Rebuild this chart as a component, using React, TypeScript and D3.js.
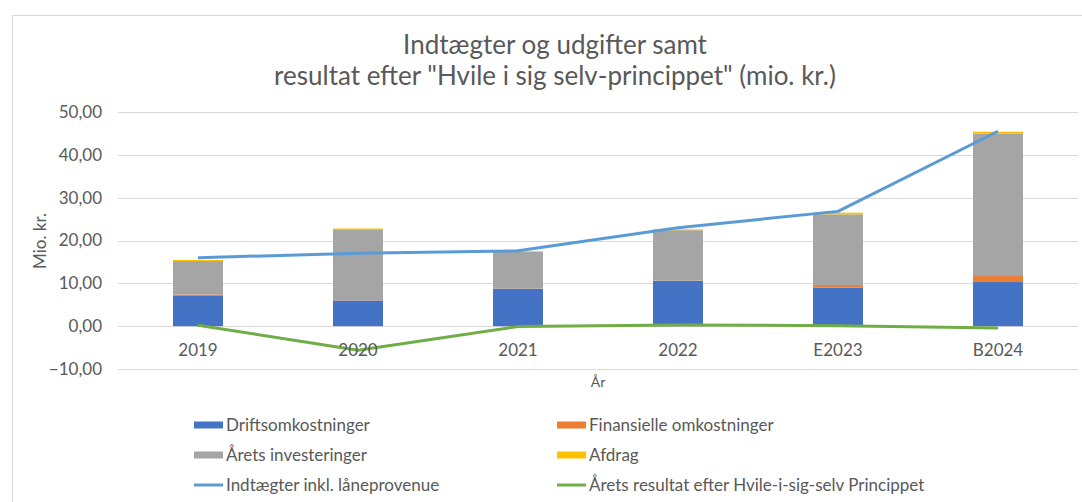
import { useEffect, useRef } from "react";
import * as d3 from "d3";

// Data (mio. kr.)
const years = ["2019", "2020", "2021", "2022", "E2023", "B2024"];
const driftsomkostninger = [7.2, 6.0, 8.7, 10.6, 9.0, 10.3];
const finansielle = [0.2, 0.05, 0.05, 0.05, 0.6, 1.4];
const investeringer = [7.8, 16.4, 8.6, 11.75, 16.5, 33.3];
const afdrag = [0.25, 0.35, 0.15, 0.2, 0.4, 0.4];
const indtaegter = [16.0, 17.0, 17.6, 23.0, 26.8, 45.5];
const resultat = [0.2, -5.6, -0.1, 0.3, 0.1, -0.4];
const yTicks = [-10, 0, 10, 20, 30, 40, 50];

const barSeries = [
  { key: "drift", label: "Driftsomkostninger", values: driftsomkostninger, color: "#4472C4" },
  { key: "fin", label: "Finansielle omkostninger", values: finansielle, color: "#ED7D31" },
  { key: "inv", label: "Årets investeringer", values: investeringer, color: "#A5A5A5" },
  { key: "afd", label: "Afdrag", values: afdrag, color: "#FFC000" },
];
const lineSeries = [
  { key: "ind", label: "Indtægter inkl. låneprovenue", values: indtaegter, color: "#5B9BD5" },
  { key: "res", label: "Årets resultat efter Hvile-i-sig-selv Princippet", values: resultat, color: "#70AD47" },
];

const App = () => {
  const svgRef = useRef<SVGSVGElement | null>(null);

  useEffect(() => {
    const svg = d3.select(svgRef.current);
    svg.selectAll("*").remove();

    const width = 1082;
    const height = 502;
    const font = "Lato, Calibri, 'Liberation Sans', Arial, sans-serif";
    const textColor = "#595959";

    // chart frame
    svg
      .append("rect")
      .attr("x", 12.5)
      .attr("y", 15.5)
      .attr("width", width + 20)
      .attr("height", height + 20)
      .attr("fill", "#fff")
      .attr("stroke", "#d9d9d9");

    // title
    const title = svg
      .append("text")
      .attr("text-anchor", "middle")
      .attr("font-family", font)
      .attr("font-size", 26)
      .attr("fill", textColor);
    title.append("tspan").attr("x", 555).attr("y", 54).text("Indtægter og udgifter samt");
    title
      .append("tspan")
      .attr("x", 555)
      .attr("y", 85)
      .text('resultat efter "Hvile i sig selv-princippet" (mio. kr.)');

    // scales
    const x = d3
      .scaleBand()
      .domain(years)
      .range([118, 1078])
      .paddingInner(0.6875)
      .paddingOuter(0.34375);
    const y = d3.scaleLinear().domain([-10, 50]).range([369, 112]);
    const cx = (d: string) => (x(d) as number) + x.bandwidth() / 2;

    const fmt = d3.formatLocale({
      decimal: ",",
      thousands: ".",
      grouping: [3],
      currency: ["", " kr."],
    }).format(".2f");

    // gridlines + y tick labels
    svg
      .append("g")
      .selectAll("line")
      .data(yTicks)
      .join("line")
      .attr("x1", 118)
      .attr("x2", 1078)
      .attr("y1", (d) => Math.round(y(d)) + 0.5)
      .attr("y2", (d) => Math.round(y(d)) + 0.5)
      .attr("stroke", "#d9d9d9");

    svg
      .append("g")
      .selectAll("text")
      .data(yTicks)
      .join("text")
      .attr("x", 102)
      .attr("y", (d) => y(d))
      .attr("dy", "0.35em")
      .attr("text-anchor", "end")
      .attr("font-family", font)
      .attr("font-size", 17)
      .attr("fill", textColor)
      .text((d) => fmt(d));

    // y axis title
    svg
      .append("text")
      .attr("transform", "translate(40,241) rotate(-90)")
      .attr("text-anchor", "middle")
      .attr("dy", "0.35em")
      .attr("font-family", font)
      .attr("font-size", 17)
      .attr("fill", textColor)
      .text("Mio. kr.");

    // stacked bars
    const table = years.map((yr, i) => {
      const row: Record<string, number | string> = { year: yr };
      barSeries.forEach((s) => (row[s.key] = s.values[i]));
      return row;
    });
    const stack = d3.stack<any>().keys(barSeries.map((s) => s.key));
    const stacked = stack(table);

    svg
      .append("g")
      .selectAll("g")
      .data(stacked)
      .join("g")
      .attr("fill", (_, i) => barSeries[i].color)
      .selectAll("rect")
      .data((d) => d)
      .join("rect")
      .attr("x", (d) => x(d.data.year as string) as number)
      .attr("width", x.bandwidth())
      .attr("y", (d) => y(d[1]))
      .attr("height", (d) => y(d[0]) - y(d[1]));

    // lines
    const line = d3
      .line<number>()
      .x((_, i) => cx(years[i]))
      .y((d) => y(d));

    lineSeries.forEach((s) => {
      svg
        .append("path")
        .datum(s.values)
        .attr("fill", "none")
        .attr("stroke", s.color)
        .attr("stroke-width", 3)
        .attr("stroke-linejoin", "round")
        .attr("d", line);
    });

    // category labels
    svg
      .append("g")
      .selectAll("text")
      .data(years)
      .join("text")
      .attr("x", (d) => cx(d))
      .attr("y", 350)
      .attr("dy", "0.35em")
      .attr("text-anchor", "middle")
      .attr("font-family", font)
      .attr("font-size", 17)
      .attr("fill", textColor)
      .text((d) => d);

    // x axis title
    svg
      .append("text")
      .attr("x", 598)
      .attr("y", 382)
      .attr("dy", "0.35em")
      .attr("text-anchor", "middle")
      .attr("font-family", font)
      .attr("font-size", 14)
      .attr("fill", textColor)
      .text("År");

    // legend
    const legendItems = [
      { ...barSeries[0], type: "bar" },
      { ...barSeries[1], type: "bar" },
      { ...barSeries[2], type: "bar" },
      { ...barSeries[3], type: "bar" },
      { ...lineSeries[0], type: "line" },
      { ...lineSeries[1], type: "line" },
    ];
    const legend = svg
      .append("g")
      .selectAll("g")
      .data(legendItems)
      .join("g")
      .attr("transform", (_, i) => `translate(${i % 2 === 0 ? 194 : 557},${425 + Math.floor(i / 2) * 30})`);

    legend
      .filter((d) => d.type === "bar")
      .append("rect")
      .attr("x", 0)
      .attr("y", -3.5)
      .attr("width", 29)
      .attr("height", 7)
      .attr("fill", (d) => d.color);

    legend
      .filter((d) => d.type === "line")
      .append("line")
      .attr("x1", 0)
      .attr("x2", 29)
      .attr("y1", 0)
      .attr("y2", 0)
      .attr("stroke", (d) => d.color)
      .attr("stroke-width", 3);

    legend
      .append("text")
      .attr("x", 32)
      .attr("y", 0)
      .attr("dy", "0.35em")
      .attr("font-family", font)
      .attr("font-size", 17)
      .attr("fill", textColor)
      .text((d) => d.label);
  }, []);

  return (
    <svg
      ref={svgRef}
      width={1082}
      height={502}
      style={{ position: "absolute", left: 0, top: 0, background: "#fff" }}
    ></svg>
  );
};

export default App;
